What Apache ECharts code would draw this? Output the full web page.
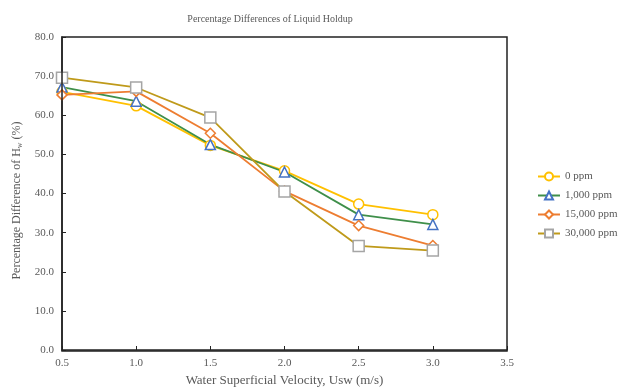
<!DOCTYPE html>
<html><head><meta charset="utf-8">
<script src="https://cdn.jsdelivr.net/npm/echarts@6/dist/echarts.min.js"></script>
<style>html,body{margin:0;padding:0;background:#fff}#c{width:624px;height:392px}</style>
</head><body><div id="c"></div>
<script>
const xValues = [0.5, 1.0, 1.5, 2.0, 2.5, 3.0];
const seriesNames = ['0 ppm', '1,000 ppm', '15,000 ppm', '30,000 ppm'];
const ppm0 = [66.0, 62.4, 52.3, 45.8, 37.3, 34.6];
const ppm1000 = [67.2, 63.6, 52.5, 45.5, 34.6, 32.1];
const ppm15000 = [65.2, 66.1, 55.4, 40.6, 31.8, 26.7];
const ppm30000 = [69.6, 67.1, 59.4, 40.5, 26.6, 25.4];
const seriesData = [ppm0, ppm1000, ppm15000, ppm30000];
const lineColors = ['#ffc000', '#3f8f4a', '#ed7d31', '#bf9a1a'];
const markerBorders = ['#ffc000', '#4472c4', '#ed7d31', '#a5a5a5'];
const symbols = ['circle', 'triangle', 'diamond', 'rect'];
const symbolSizes = [10, 10, 10, 11];

const font = '"Liberation Serif", "Times New Roman", serif';
const grey = '#595959';
const chart = echarts.init(document.getElementById('c'));
chart.setOption({
  animation: false,
  textStyle: { fontFamily: font },
  title: {
    text: 'Percentage Differences of Liquid Holdup',
    left: 265, top: 9, textAlign: 'center',
    textStyle: { fontFamily: font, fontSize: 10, fontWeight: 'normal', color: grey }
  },
  grid: { left: 62, right: 117, top: 37, bottom: 41 },
  legend: {
    orient: 'vertical', left: 532, top: 166, itemGap: 8, itemWidth: 22, itemHeight: 10,
    textStyle: { fontFamily: font, fontSize: 11, color: grey },
    data: seriesNames
  },
  xAxis: {
    type: 'value', min: 0.5, max: 3.5, interval: 0.5,
    name: 'Water Superficial Velocity, Usw (m/s)', nameLocation: 'middle', nameGap: 24,
    nameTextStyle: { fontFamily: font, fontSize: 13, color: grey },
    axisLine: { show: true, lineStyle: { color: '#222', width: 1.5 } },
    axisTick: { show: true, inside: true, length: 4, lineStyle: { color: '#222' } },
    axisLabel: { fontFamily: font, fontSize: 11, color: grey, margin: 8, formatter: v => v.toFixed(1) },
    splitLine: { show: false }
  },
  yAxis: {
    type: 'value', min: 0, max: 80, interval: 10,
    name: 'Percentage Difference of H{sub|w} (%)', nameLocation: 'middle', nameGap: 36,
    nameTextStyle: { fontFamily: font, fontSize: 12, color: grey, padding: [0, 14, 0, 0],
      rich: { sub: { fontFamily: font, fontSize: 8, color: grey, verticalAlign: 'bottom', padding: [6, 0, 0, 0] } } },
    axisLine: { show: true, lineStyle: { color: '#222', width: 1.5 } },
    axisTick: { show: true, inside: true, length: 4, lineStyle: { color: '#222' } },
    axisLabel: { fontFamily: font, fontSize: 11, color: grey, margin: 8, formatter: v => v.toFixed(1) },
    splitLine: { show: false }
  },
  series: seriesNames.map((n, i) => ({
    name: n, type: 'line',
    data: xValues.map((x, j) => [x, seriesData[i][j]]),
    symbol: symbols[i], symbolSize: symbolSizes[i], showAllSymbol: true,
    lineStyle: { color: lineColors[i], width: 1.8 },
    itemStyle: { color: '#fff', borderColor: markerBorders[i], borderWidth: 1.5 },
    emphasis: { disabled: true }
  })),
  graphic: [{
    type: 'rect', shape: { x: 62, y: 37, width: 445, height: 314 },
    style: { fill: 'none', stroke: '#222', lineWidth: 1.5 }, silent: true, z: 100
  }]
});
</script></body></html>
